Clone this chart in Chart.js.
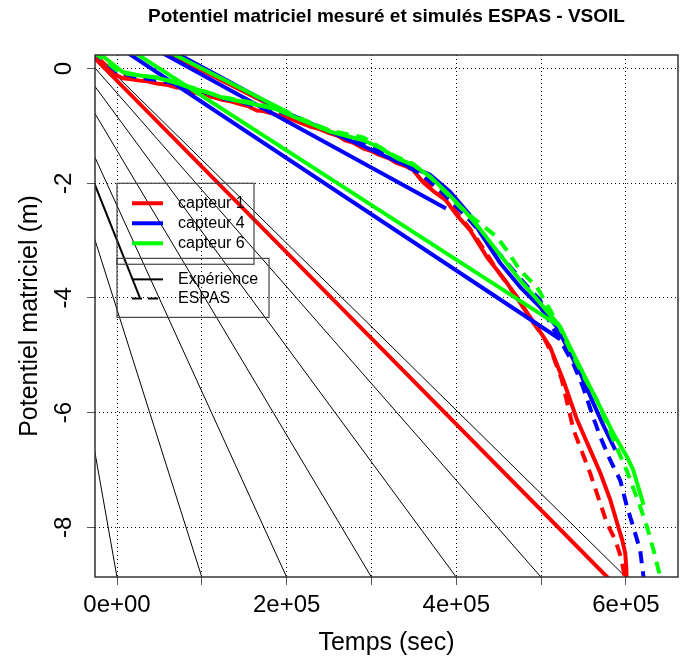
<!DOCTYPE html>
<html>
<head>
<meta charset="utf-8">
<title>Potentiel matriciel mesuré et simulés ESPAS - VSOIL</title>
<script src="https://cdn.jsdelivr.net/npm/chart.js@4.4.1/dist/chart.umd.min.js"></script>
<style>
  body { margin: 0; background: #fff; }
</style>
</head>
<body>
<canvas id="canvas" width="692" height="669"></canvas>
<script>
// [temps (s), potentiel (m)] ; null = coupure de la ligne
const capteur1Exp = [
  [-67600, 0.80], [0, -0.12], [6700, -0.17], [15000, -0.18], [26800, -0.21], [36000, -0.22],
  [46900, -0.26], [58000, -0.28], [70500, -0.33], [78000, -0.34], [85800, -0.41], [95000, -0.43],
  [103500, -0.47], [114000, -0.50], [124800, -0.55], [134000, -0.57], [144800, -0.62], [155000, -0.66],
  [164900, -0.73], [172000, -0.74], [182600, -0.78], [191000, -0.83], [200300, -0.85], [212000, -0.92],
  [227400, -1.01], [238000, -1.05], [251000, -1.13], [260000, -1.17], [268700, -1.25], [278000, -1.29],
  [290000, -1.39], [300000, -1.44], [310000, -1.51], [320000, -1.56], [330100, -1.65], [340000, -1.70],
  [349000, -1.77], [360800, -1.98], [374900, -2.16], [387900, -2.30], [400900, -2.56], [416300, -2.82],
  [436300, -3.29], [459900, -3.74], [478800, -4.16], [495300, -4.51], [510700, -4.86], [526000, -5.43],
  [542500, -6.13], [557900, -6.65], [569700, -7.05], [581500, -7.52], [589700, -7.93], [595600, -8.22],
  [599200, -8.45], [600400, -8.69], [601500, -9.22], [-67600, 0.80],
  null, [26600, 0.52], [203800, -0.81]
];
const capteur1Espas = [
  [-28700, 0.30], [0, -0.10], [26800, -0.19], [46900, -0.24], [70500, -0.31], [85800, -0.38],
  [103500, -0.45], [124800, -0.53], [144800, -0.60], [164900, -0.70], [182600, -0.76], [200300, -0.83],
  [227400, -0.99], [251000, -1.11], [268700, -1.22], [290000, -1.36], [310000, -1.48], [330100, -1.62],
  [349000, -1.75], [360800, -1.93], [374900, -2.12], [387900, -2.27], [400900, -2.52], [416300, -2.80],
  [432000, -3.14], [447800, -3.51], [471400, -3.98], [491000, -4.44], [502800, -4.68], [514600, -5.03],
  [524500, -5.43], [538200, -6.30], [557900, -7.06], [569700, -7.58], [577600, -7.93], [587400, -8.22],
  [594500, -8.54], [599200, -8.92]
];
const capteur4Exp = [
  [38600, 0.52], [203800, -0.80], [251000, -1.10], [290000, -1.35], [330100, -1.62], [369000, -1.85],
  [392700, -2.15], [416300, -2.56], [428100, -2.86], [451700, -3.39], [475300, -3.81], [498900, -4.16],
  [518900, -4.51], [530700, -4.86], [546100, -5.31], [561400, -5.83], [572000, -6.18], [587400, -6.65],
  null, [4400, 0.67], [387900, -2.44],
  null, [-45200, 0.84], [522500, -4.72]
];
const capteur4Espas = [
  [-28700, 0.30], [0, -0.06], [26800, -0.16], [46900, -0.20], [70500, -0.27], [85800, -0.36],
  [105500, -0.42], [125100, -0.52], [144800, -0.57], [164500, -0.67], [188100, -0.73], [203800, -0.81],
  [227400, -0.95], [251000, -1.09], [270000, -1.18], [290300, -1.30], [310000, -1.42], [329700, -1.60],
  [357200, -1.83], [377300, -2.07], [400900, -2.42], [412700, -2.59], [428100, -2.85], [451700, -3.25],
  [475300, -3.66], [487100, -3.86], [498900, -4.04], [510700, -4.44], [522500, -4.74], [537800, -5.14],
  [549600, -5.56], [561400, -6.08], [569700, -6.42], [581500, -6.83], [593300, -7.18], [601200, -7.64],
  [608600, -7.99], [616800, -8.40], [620800, -8.87], [623000, -9.09]
];
const capteur6Exp = [
  [-29900, 0.37], [6700, -0.06], [26800, -0.12], [46500, -0.16], [66100, -0.23], [85800, -0.33],
  [105500, -0.41], [125100, -0.51], [144800, -0.57], [164500, -0.63], [188100, -0.71], [211700, -0.86],
  [251000, -1.10], [290300, -1.25], [310000, -1.38], [329700, -1.56], [349000, -1.68], [369000, -1.88],
  [388800, -2.16], [408000, -2.45], [428100, -2.80], [451700, -3.25], [475300, -3.69], [498900, -4.09],
  [522500, -4.50], [534300, -4.86], [546100, -5.21], [561400, -5.66], [573200, -6.01], [585000, -6.36],
  [601500, -6.78], [608600, -7.00], [620800, -7.61],
  null, [35000, 0.49], [203800, -0.78],
  null, [-38100, 0.84], [522500, -4.50]
];
const capteur6Espas = [
  [-28700, 0.30], [0, -0.03], [11100, -0.09], [26800, -0.12], [46500, -0.15], [66100, -0.23],
  [85800, -0.32], [105500, -0.41], [125100, -0.50], [144800, -0.55], [164500, -0.61], [188100, -0.70],
  [211700, -0.84], [251000, -1.08], [290300, -1.20], [310000, -1.37], [329700, -1.54], [349000, -1.66],
  [369000, -1.89], [388800, -2.18], [408000, -2.47], [428100, -2.70], [448100, -2.94], [459600, -3.17],
  [475300, -3.52], [495000, -3.81], [510700, -4.21], [522500, -4.53], [534300, -4.91], [549600, -5.35],
  [565700, -5.78], [585400, -6.48], [601200, -7.02], [616800, -7.64], [624800, -7.99], [632600, -8.40],
  [640500, -8.87], [644000, -9.09]
];

// faisceau de droites noires
const fanOrigin = [-126600, 1.71];
const fanEndTimes = [0, 100000, 200000, 300000, 400000, 500000, 600000];
const fanEndLevel = -8.87;
const shortRefLine = [[-126600, 1.71], [26800, -3.99]];

const xLimits = [-25950, 661400];
const yLimits = [-8.867, 0.237];
const xTickValues = [0, 100000, 200000, 300000, 400000, 500000, 600000];
const xTickLabels = ['0e+00', '', '2e+05', '', '4e+05', '', '6e+05'];
const yTickValues = [-8, -6, -4, -2, 0];
const yTickLabels = ['-8', '-6', '-4', '-2', '0'];

const seriesNames = ['capteur 1', 'capteur 4', 'capteur 6'];
const seriesColors = ['#ff0000', '#0000ff', '#00ff00'];
const styleNames = ['Expérience', 'ESPAS'];
const titleText = 'Potentiel matriciel mesuré et simulés ESPAS - VSOIL';
const FONT = '"Liberation Sans", Arial, sans-serif';

function toPoints(arr) {
  let lastX = 0;
  return arr.map(p => {
    if (p === null) return { x: lastX, y: null };
    lastX = p[0];
    return { x: p[0], y: p[1] };
  });
}

const datasets = [];
fanEndTimes.forEach(t => {
  datasets.push({
    data: toPoints([fanOrigin, [t, fanEndLevel]]),
    borderColor: '#000', borderWidth: 1, order: 10
  });
});
datasets.push({ data: toPoints(shortRefLine), borderColor: '#000', borderWidth: 2, order: 10 });

const exps = [capteur1Exp, capteur4Exp, capteur6Exp];
const espas = [capteur1Espas, capteur4Espas, capteur6Espas];
exps.forEach((d, i) => {
  datasets.push({ data: toPoints(d), borderColor: seriesColors[i], borderWidth: 4, order: 6 - 2 * i });
  datasets.push({ data: toPoints(espas[i]), borderColor: seriesColors[i], borderWidth: 4,
    borderDash: [12, 8], order: 5 - 2 * i });
});
datasets.forEach(ds => {
  ds.pointRadius = 0;
  ds.tension = 0;
  ds.clip = 0;
  ds.borderJoinStyle = 'round';
});

const decor = {
  id: 'decor',
  afterDraw(chart) {
    const { ctx, chartArea: a, scales: { x, y } } = chart;
    ctx.save();
    ctx.strokeStyle = '#333';
    ctx.lineWidth = 1.5;
    ctx.strokeRect(a.left, a.top, a.right - a.left, a.bottom - a.top);

    ctx.fillStyle = '#000';
    ctx.textAlign = 'center';
    ctx.textBaseline = 'middle';
    ctx.font = 'bold 19px ' + FONT;
    ctx.fillText(titleText, (a.left + a.right) / 2, 17);

    ctx.font = '25px ' + FONT;
    ctx.fillText('Temps (sec)', (a.left + a.right) / 2, 643);
    ctx.save();
    ctx.translate(30, (a.top + a.bottom) / 2);
    ctx.rotate(-Math.PI / 2);
    ctx.fillText('Potentiel matriciel (m)', 0, 0);
    ctx.restore();

    ctx.font = '24px ' + FONT;
    yTickValues.forEach((v, i) => {
      ctx.save();
      ctx.translate(64, y.getPixelForValue(v));
      ctx.rotate(-Math.PI / 2);
      ctx.fillText(yTickLabels[i], 0, 0);
      ctx.restore();
    });

    // légendes
    ctx.font = '16px ' + FONT;
    ctx.textAlign = 'left';
    let lx = x.getPixelForValue(0), ly = y.getPixelForValue(-2);
    ctx.strokeStyle = '#444';
    ctx.lineWidth = 1.2;
    ctx.strokeRect(lx, ly, 137, 81);
    seriesNames.forEach((name, i) => {
      const ry = ly + 20 + 20 * i;
      ctx.strokeStyle = seriesColors[i];
      ctx.lineWidth = 4;
      ctx.beginPath(); ctx.moveTo(lx + 15, ry); ctx.lineTo(lx + 46, ry); ctx.stroke();
      ctx.fillText(name, lx + 61, ry);
    });
    ly = y.getPixelForValue(-3.31);
    ctx.strokeStyle = '#444';
    ctx.lineWidth = 1.2;
    ctx.strokeRect(lx, ly, 152, 59);
    styleNames.forEach((name, i) => {
      const ry = ly + 21 + 19 * i;
      ctx.strokeStyle = '#000';
      ctx.lineWidth = 2;
      ctx.setLineDash(i === 0 ? [] : [10, 6]);
      ctx.beginPath(); ctx.moveTo(lx + 15, ry); ctx.lineTo(lx + 46, ry); ctx.stroke();
      ctx.setLineDash([]);
      ctx.fillText(name, lx + 61, ry);
    });
    ctx.restore();
  }
};

new Chart(document.getElementById('canvas').getContext('2d'), {
  type: 'line',
  data: { datasets },
  options: {
    responsive: false,
    animation: false,
    events: [],
    layout: { padding: { top: 55, right: 14, left: 0, bottom: 0 } },
    plugins: { legend: { display: false }, tooltip: { enabled: false } },
    scales: {
      x: {
        type: 'linear',
        min: xLimits[0], max: xLimits[1],
        afterFit: s => { s.height = 92; },
        afterBuildTicks: s => { s.ticks = xTickValues.map(v => ({ value: v })); },
        grid: { color: '#000', lineWidth: 1, tickColor: '#555', tickLength: 8 },
        border: { display: false, dash: [1, 3] },
        ticks: {
          autoSkip: false, maxRotation: 0,
          padding: 6, color: '#000', font: { family: FONT, size: 24 },
          callback: (v, i) => xTickLabels[xTickValues.indexOf(v)] || ''
        }
      },
      y: {
        type: 'linear',
        min: yLimits[0], max: yLimits[1],
        afterFit: s => { s.width = 95; },
        afterBuildTicks: s => { s.ticks = yTickValues.map(v => ({ value: v })); },
        grid: { color: '#000', lineWidth: 1, tickColor: '#555', tickLength: 8 },
        border: { display: false, dash: [1, 3] },
        ticks: { display: false }
      }
    }
  },
  plugins: [decor]
});
</script>
</body>
</html>
